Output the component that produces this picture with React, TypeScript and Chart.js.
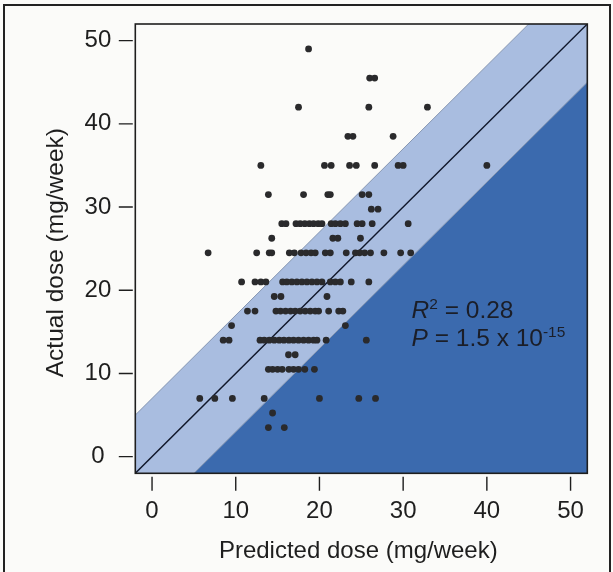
import React, { useEffect, useRef } from "react";
import { Chart, registerables } from "chart.js";

Chart.register(...registerables);

// Actual dose levels (mg/week), one row of points per level
const actualDose = [49, 45.5, 42, 38.5, 35, 31.5, 29.75, 28, 26.25, 24.5, 21, 19.25, 17.5, 15.75, 14, 12.25, 10.5, 7, 5.25, 3.5];

// Predicted dose (mg/week) of each patient, grouped by the actual dose row above
const predictedDose = [
  [18.7],
  [26.0, 26.6],
  [17.5, 25.9, 32.9],
  [23.4, 24.0, 28.8],
  [13.0, 20.6, 21.4, 23.6, 24.4, 26.6, 29.4, 30.0, 40.0],
  [13.9, 18.1, 21.0, 21.3, 25.1, 25.9],
  [26.2, 27.0],
  [15.5, 16.0, 17.2, 17.7, 18.25, 18.8, 19.3, 19.85, 20.3, 21.4, 21.9, 22.5, 23.1, 24.5, 25.1, 26.3, 30.6],
  [14.3, 21.6, 22.2, 24.9],
  [6.7, 12.5, 14.0, 14.3, 16.4, 17.0, 17.8, 18.4, 19.0, 19.5, 20.7, 21.3, 23.2, 24.3, 24.8, 25.4, 26.1, 27.7, 29.7, 30.9],
  [10.7, 12.3, 13.0, 13.6, 15.6, 16.1, 16.7, 17.3, 17.9, 18.5, 19.1, 19.7, 20.3, 21.3, 21.9, 22.5, 23.8, 25.9],
  [14.6, 15.4, 20.9],
  [11.4, 12.3, 14.8, 15.35, 15.95, 16.55, 17.1, 17.7, 18.3, 18.9, 19.5, 19.9, 21.1, 22.3, 22.8],
  [9.5, 23.1],
  [8.5, 9.2, 12.9, 13.4, 14.0, 14.6, 15.2, 15.75, 16.35, 16.9, 17.5, 18.1, 18.7, 19.3, 19.7, 20.8, 25.6],
  [16.3, 17.1],
  [13.9, 14.4, 15.0, 15.55, 16.35, 16.9, 17.5, 18.25, 19.4],
  [5.7, 7.5, 9.6, 13.4, 20.0, 24.7, 26.7],
  [14.4],
  [13.9, 15.8],
];

const tickValues = [0, 10, 20, 30, 40, 50];
const axisMin = -2;
const axisMax = 52;
const bandHalfWidth = 7; // mg/week (1 mg/day)
const lineExtent = [-20, 70];

const xTitle = "Predicted dose (mg/week)";
const yTitle = "Actual dose (mg/week)";
const rSquared = "0.28";
const pMantissa = "1.5";
const pExponent = "-15";

const FONT = '"Liberation Sans", Arial, Helvetica, sans-serif';

export default function App() {
  const ref = useRef<HTMLCanvasElement | null>(null);

  useEffect(() => {
    if (!ref.current) return;

    const points: { x: number; y: number }[] = [];
    actualDose.forEach((y, i) => predictedDose[i].forEach((x) => points.push({ x, y })));

    const upper = lineExtent.map((x) => ({ x, y: x + bandHalfWidth }));
    const lower = lineExtent.map((x) => ({ x, y: x - bandHalfWidth }));
    const identity = lineExtent.map((x) => ({ x, y: x }));

    const decor = {
      id: "decor",
      afterDatasetsDraw(chart: any) {
        const ctx = chart.ctx;
        const { left, right, top, bottom } = chart.chartArea;
        const xs = chart.scales.x;
        const ys = chart.scales.y;
        ctx.save();
        // box
        ctx.strokeStyle = "#1e1e1e";
        ctx.lineWidth = 1.6;
        ctx.strokeRect(left, top, right - left, bottom - top);
        // tick marks
        ctx.lineWidth = 1.4;
        ctx.beginPath();
        tickValues.forEach((v) => {
          const px = xs.getPixelForValue(v);
          ctx.moveTo(px, bottom + 3.5);
          ctx.lineTo(px, bottom + 17.5);
          const py = ys.getPixelForValue(v);
          ctx.moveTo(left - 2.5, py);
          ctx.lineTo(left - 16.5, py);
        });
        ctx.stroke();

        // axis titles
        ctx.fillStyle = "#1e1e1e";
        ctx.font = `24px ${FONT}`;
        ctx.textAlign = "center";
        ctx.textBaseline = "middle";
        ctx.fillText(xTitle, (left + right) / 2 - 3, 551);
        ctx.save();
        ctx.translate(56, (top + bottom) / 2 + 4);
        ctx.rotate(-Math.PI / 2);
        ctx.font = `24.5px ${FONT}`;
        ctx.fillText(yTitle, 0, 0);
        ctx.restore();

        // annotation
        ctx.textAlign = "left";
        ctx.textBaseline = "alphabetic";
        ctx.fillStyle = "#1b1e28";
        let x = xs.getPixelForValue(31.0);
        let y = ys.getPixelForValue(16.65);
        ctx.font = `italic 24.5px ${FONT}`;
        ctx.fillText("R", x, y);
        x += ctx.measureText("R").width;
        ctx.font = `15.5px ${FONT}`;
        ctx.fillText("2", x, y - 9);
        x += ctx.measureText("2").width;
        ctx.font = `24.5px ${FONT}`;
        ctx.fillText(" = " + rSquared, x, y);

        x = xs.getPixelForValue(31.0);
        y = ys.getPixelForValue(13.3);
        ctx.font = `italic 24.5px ${FONT}`;
        ctx.fillText("P", x, y);
        x += ctx.measureText("P").width;
        ctx.font = `24.5px ${FONT}`;
        const main = " = " + pMantissa + " x 10";
        ctx.fillText(main, x, y);
        x += ctx.measureText(main).width;
        ctx.font = `15.5px ${FONT}`;
        ctx.fillText(pExponent, x, y - 9);
        ctx.restore();
      },
    };

    const chart = new Chart(ref.current, {
      type: "scatter",
      data: {
        datasets: [
          {
            data: upper,
            showLine: true,
            pointRadius: 0,
            borderColor: "#8797b2",
            borderWidth: 1,
            backgroundColor: "#a9bde0",
            fill: 1,
            order: 3,
          },
          {
            data: lower,
            showLine: true,
            pointRadius: 0,
            borderColor: "#8797b2",
            borderWidth: 1,
            backgroundColor: "#3b6aae",
            fill: "start",
            order: 2,
          },
          {
            data: identity,
            showLine: true,
            pointRadius: 0,
            borderColor: "#10172a",
            borderWidth: 1.4,
            fill: false,
            order: 1,
          },
          {
            data: points,
            pointRadius: 3.4,
            pointBackgroundColor: "#2a2a2c",
            pointBorderWidth: 0,
            showLine: false,
            order: 0,
          },
        ],
      } as any,
      options: {
        animation: false,
        responsive: false,
        events: [],
        layout: { padding: { left: 0, top: 24, right: 25.7, bottom: 0 } },
        plugins: { legend: { display: false }, tooltip: { enabled: false } },
        scales: {
          x: {
            type: "linear",
            min: axisMin,
            max: axisMax,
            grid: { display: false, drawTicks: false },
            border: { display: false },
            afterBuildTicks: (s: any) => {
              s.ticks = tickValues.map((value) => ({ value }));
            },
            afterFit: (s: any) => {
              s.height = 98.7;
              s.paddingLeft = 0;
              s.paddingRight = 0;
            },
            ticks: {
              padding: 24,
              color: "#1e1e1e",
              font: { family: FONT, size: 24 },
              callback: (v: any) => String(v),
            },
          },
          y: {
            type: "linear",
            min: axisMin,
            max: axisMax,
            grid: { display: false, drawTicks: false },
            border: { display: false },
            afterBuildTicks: (s: any) => {
              s.ticks = tickValues.map((value) => ({ value }));
            },
            afterFit: (s: any) => {
              s.width = 135.3;
              s.paddingTop = 0;
              s.paddingBottom = 0;
            },
            ticks: {
              padding: 24,
              crossAlign: "center",
              color: "#1e1e1e",
              font: { family: FONT, size: 24 },
              callback: (v: any) => String(v),
            },
          },
        },
      } as any,
      plugins: [decor],
    });

    return () => chart.destroy();
  }, []);

  return (
    <div style={{ position: "absolute", left: 0, top: 0, width: 613, height: 572, background: "#fbfbf9", overflow: "hidden" }}>
      <canvas ref={ref} width={613} height={572} style={{ position: "absolute", left: 0, top: 0, width: 613, height: 572 }} />
      <div
        style={{
          position: "absolute",
          left: 3,
          top: 4,
          width: 604,
          height: 600,
          borderTop: "2px solid #222",
          borderLeft: "2px solid #222",
          borderRight: "2px solid #222",
          pointerEvents: "none",
        }}
      />
    </div>
  );
}
